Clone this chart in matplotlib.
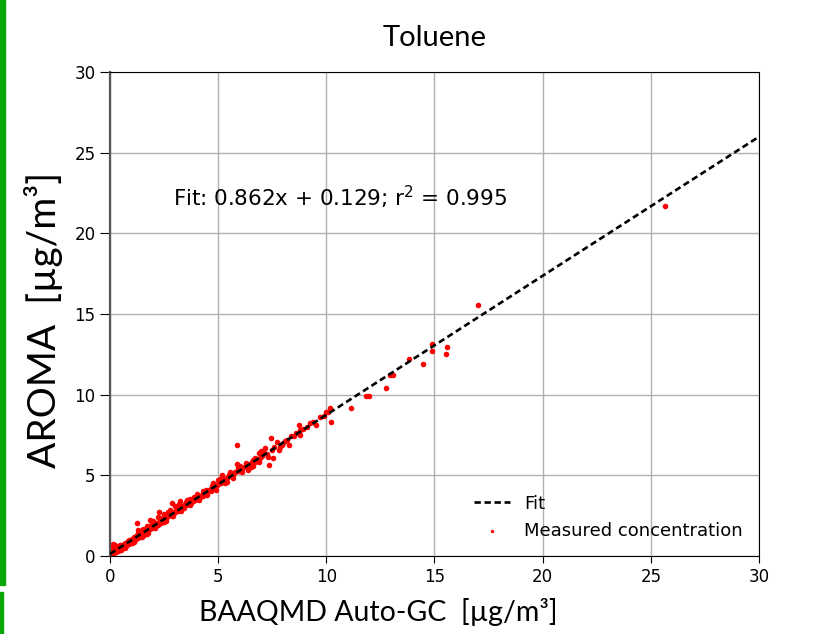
#!/usr/bin/python3

# Scatter of AROMA vs BAAQMD Auto-GC toluene, with the linear fit.

import matplotlib
matplotlib.use("Agg")
import matplotlib.pyplot as plt
from matplotlib.patches import Rectangle

import numpy as np

# values (ug/m3)
gc_x = [
    0.05, 0.10, 0.12, 0.15, 0.20, 0.25, 0.30, 0.35, 0.40, 0.45, 0.50, 0.55, 0.60, 0.65, 0.70,
    0.75, 0.80, 0.85, 0.90, 0.95, 1.00, 0.02, 0.08, 0.18, 0.28, 0.38, 0.48, 0.58, 0.68, 0.78,
    1.05, 1.10, 1.15, 1.20, 1.23, 1.25, 1.30, 1.35, 1.40, 1.45, 1.50, 1.55, 1.60, 1.65, 1.70,
    1.75, 1.80, 1.85, 1.85, 1.90, 1.95, 2.00, 1.28, 1.52, 1.72,
    2.05, 2.10, 2.15, 2.20, 2.25, 2.25, 2.30, 2.35, 2.40, 2.45, 2.50, 2.55, 2.60, 2.65, 2.70,
    2.75, 2.80, 2.85, 2.85, 2.90, 2.95, 3.00, 2.20, 2.48, 2.78,
    3.05, 3.10, 3.15, 3.20, 3.24, 3.25, 3.30, 3.35, 3.40, 3.45, 3.50, 3.55, 3.60, 3.65, 3.70,
    3.70, 3.75, 3.80, 3.85, 3.90, 3.95, 4.00, 3.18, 3.58,
    4.05, 4.10, 4.15, 4.20, 4.25, 4.30, 4.35, 4.40, 4.46, 4.50, 4.55, 4.60, 4.65, 4.70, 4.78,
    4.80, 4.85, 4.90, 4.95, 5.00, 4.42, 4.72,
    5.05, 5.10, 5.15, 5.20, 5.25, 5.30, 5.35, 5.40, 5.45, 5.50, 5.55, 5.60, 5.65, 5.70, 5.75,
    5.80, 5.85, 5.85, 5.90, 5.95, 6.00, 5.35, 5.62,
    6.10, 6.20, 6.30, 6.39, 6.45, 6.55, 6.62, 6.70, 6.80, 6.90, 6.95, 7.05, 7.17, 7.25, 7.35,
    7.44, 7.50, 7.55, 7.70, 7.86, 7.95, 8.10, 8.28, 8.37, 8.50, 8.74, 8.78, 8.78, 9.25, 9.51,
    9.71, 10.00, 10.17, 10.22, 11.14, 11.84, 11.95, 12.74, 13.10, 12.95, 13.82, 14.47, 14.89, 14.89, 15.58,
    15.53, 17.00, 25.66,
    0.30, 0.50, 0.70, 0.90, 1.10, 1.30, 1.50, 1.70, 1.90, 2.10, 2.30, 2.50, 2.70, 2.90, 3.10,
    3.30, 3.50, 3.70, 3.90, 4.10, 4.30, 4.50, 4.70, 4.90, 5.10, 5.30, 5.50, 5.70, 5.90, 6.10,
    6.30, 6.50, 6.70, 6.90, 7.10, 7.30, 7.60, 7.80, 8.00, 8.20, 8.60, 8.90, 9.10, 9.40, 9.90,
    10.10, 0.15, 0.25, 1.00, 2.00, 3.00, 4.00, 5.00, 6.00, 5.20, 5.40, 6.60, 7.00, 2.60, 3.60,
]
aroma_y = [
    0.35, 0.60, 0.20, 0.74, 0.30, 0.45, 0.25, 0.50, 0.62, 0.40, 0.55, 0.70, 0.50, 0.68, 0.82,
    0.60, 0.80, 0.90, 0.72, 0.95, 1.05, 0.10, 0.15, 0.50, 0.55, 0.30, 0.70, 0.62, 0.55, 0.75,
    0.90, 1.15, 1.00, 1.20, 2.03, 1.30, 1.10, 1.35, 1.25, 1.40, 1.45, 1.30, 1.55, 1.50, 1.60,
    1.45, 1.70, 2.23, 1.65, 1.80, 1.75, 1.90, 1.60, 1.70, 1.85,
    1.85, 2.00, 2.05, 1.95, 2.75, 2.10, 2.20, 2.05, 2.30, 2.25, 2.35, 2.30, 2.50, 2.40, 2.45,
    2.55, 2.60, 3.26, 2.50, 2.70, 2.65, 2.75, 2.40, 2.60, 2.85,
    2.80, 2.90, 2.80, 3.00, 3.43, 2.95, 3.05, 3.10, 3.00, 3.20, 3.15, 3.25, 3.30, 3.20, 3.51,
    3.35, 3.30, 3.45, 3.40, 3.50, 3.45, 3.60, 3.20, 3.45,
    3.55, 3.70, 3.65, 3.75, 3.80, 3.70, 3.90, 3.85, 3.99, 3.95, 4.05, 4.10, 4.00, 4.20, 4.50,
    4.25, 4.30, 4.35, 4.40, 4.45, 4.10, 4.35,
    4.50, 4.60, 4.55, 4.70, 4.65, 4.75, 4.80, 4.85, 4.90, 5.00, 5.23, 5.00, 5.10, 5.05, 5.15,
    5.20, 5.68, 6.86, 5.25, 5.30, 5.35, 4.60, 4.95,
    5.40, 5.50, 5.55, 5.33, 5.70, 5.80, 5.95, 5.85, 6.00, 6.36, 6.10, 6.20, 6.71, 6.30, 5.64,
    7.30, 6.60, 6.06, 7.09, 6.76, 6.90, 7.10, 6.88, 7.44, 7.45, 8.12, 7.81, 7.50, 8.25, 8.12,
    8.64, 8.95, 9.19, 8.33, 9.19, 9.92, 9.90, 10.44, 11.24, 11.20, 12.21, 11.90, 13.14, 12.71, 12.96,
    12.52, 15.56, 21.70,
    0.45, 0.35, 0.50, 1.00, 0.85, 1.40, 1.20, 1.35, 1.95, 1.75, 2.35, 2.10, 2.70, 2.45, 3.05,
    2.80, 3.35, 3.15, 3.65, 3.50, 4.00, 3.80, 4.30, 4.10, 4.75, 4.50, 5.05, 4.85, 5.45, 5.20,
    5.75, 5.50, 6.05, 5.80, 6.40, 6.15, 6.75, 6.60, 7.00, 7.20, 7.60, 7.85, 8.00, 8.30, 8.70,
    8.90, 0.05, 0.70, 0.80, 2.20, 3.10, 3.85, 4.70, 5.60, 5.05, 4.60, 5.60, 6.50, 2.20, 3.50,
]

# fit from the reference annotation
slope = 0.862
intercept = 0.129
r2 = 0.995

label_font = ["Lato", "DejaVu Sans"]

fig = plt.figure(figsize=(8.37, 6.34), dpi=100)
ax = fig.add_axes([0.1314, 0.123, 0.7754, 0.7634])

# green bar along the left edge of the picture
fig.patches.append(Rectangle((0, 0.078), 0.0055, 0.922, transform=fig.transFigure,
                             color="#08a808", zorder=0))
fig.patches.append(Rectangle((0, 0), 0.0035, 0.066, transform=fig.transFigure,
                             color="#08a808", zorder=0))

fit_x = np.array([0, 30])
ax.plot(fit_x, slope * fit_x + intercept, "k--", lw=1.9, dashes=(2.4, 1.4),
        label="Fit", zorder=3)
ax.scatter(gc_x, aroma_y, s=16, c="red", lw=0, label="Measured concentration", zorder=2)

ax.set_xlim(0, 30)
ax.set_ylim(0, 30)
ax.set_xticks([0, 5, 10, 15, 20, 25, 30])
ax.set_yticks([0, 5, 10, 15, 20, 25, 30])
ax.tick_params(labelsize=12)
ax.tick_params(axis="y", length=7)
ax.tick_params(axis="x", length=5)
ax.grid(True, color="#b0b0b0", lw=1)
ax.set_axisbelow(True)
ax.spines["left"].set_color("#555555")
ax.spines["left"].set_linewidth(1.6)

ax.text(2.9, 22.2, "Fit: %.3fx + %.3f; r$^2$ = %.3f" % (slope, intercept, r2),
        fontsize=15.5, va="center")

ax.set_title("Toluene", fontsize=21, family=label_font, pad=19)
ax.set_xlabel("BAAQMD Auto-GC  [µg/m³]", fontsize=20.5, family=label_font, labelpad=9)
ax.set_ylabel("AROMA  [µg/m³]", fontsize=28, family=label_font, labelpad=8)
# the labels sit a little off-centre in the original
ax.xaxis.label.set_x(0.414)
ax.yaxis.label.set_y(0.488)

ax.legend(loc="lower right", frameon=False, fontsize=13, markerscale=0.6,
          bbox_to_anchor=(1.0, 0.0))

plt.savefig("out.png", dpi=100)
